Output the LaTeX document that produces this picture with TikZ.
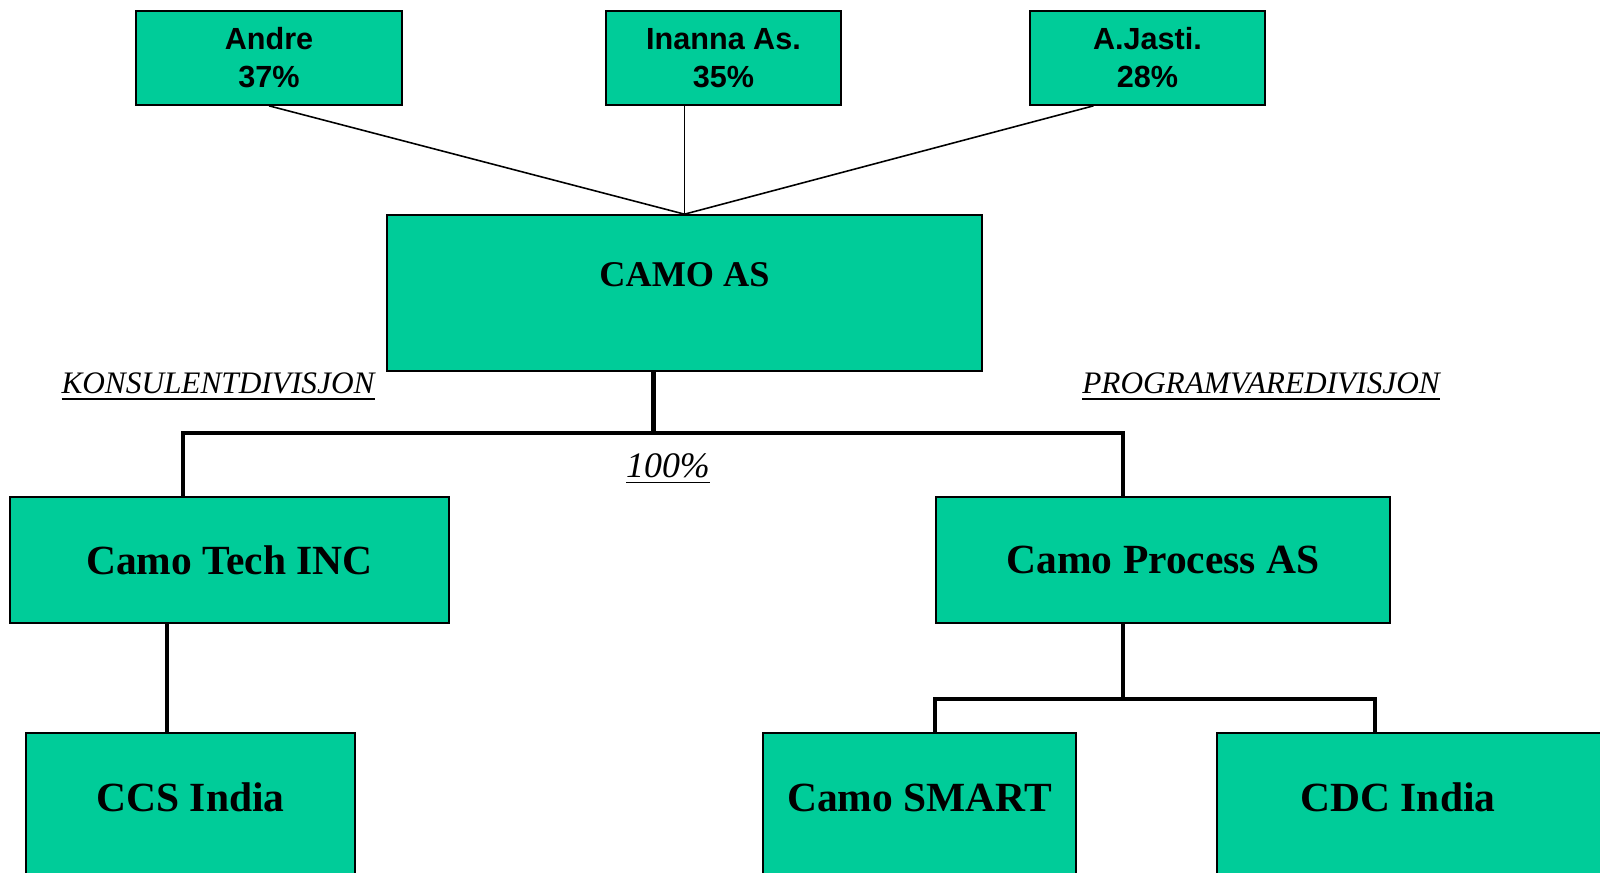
\documentclass[tikz,border=0pt]{standalone}
\usepackage{fontspec}
\setmainfont{Liberation Serif}
\newfontfamily\ownerfont{Liberation Sans}
\usetikzlibrary{calc}
\definecolor{boxgreen}{HTML}{00CC99}

\tikzset{
  owner/.style={draw, fill=boxgreen, line width=0.45pt, inner sep=0pt, align=center,
    minimum height=0.94cm, font=\ownerfont\bfseries\fontsize{8.7}{10.8}\selectfont},
  company/.style={draw, fill=boxgreen, line width=0.45pt, inner sep=0pt,
    minimum height=1.26cm, font=\bfseries\fontsize{11.8}{14}\selectfont},
  lowbox/.style={company, minimum height=2cm, text height=0.35cm, text depth=0.79cm},
  division/.style={font=\itshape\fontsize{8.9}{10}\selectfont},
  share/.style={line width=0.45pt},
  link/.style={line width=1.15pt},
}

\begin{document}
\begin{tikzpicture}[x=0.01cm, y=-0.01cm]
    \useasboundingbox (0,0) rectangle (1600,872);
    \clip (0,0) rectangle (1600,872);

    % owners
    \node[owner, minimum width=2.66cm] (andre) at (269,58) {Andre\\37\%};
    \node[owner, minimum width=2.35cm] (inanna) at (723.5,58) {Inanna As.\\35\%};
    \node[owner, minimum width=2.35cm] (jasti) at (1147.5,58) {A.Jasti.\\28\%};

    % mother company
    \node[company, minimum width=5.95cm, minimum height=1.56cm,
      font=\bfseries\fontsize{10.3}{12}\selectfont,
      text height=0.3cm, text depth=0.43cm] (camo) at (684.5,293) {CAMO AS};

    \draw[share] (andre.south) -- (camo.north);
    \draw[share] (inanna.south -| camo.north) -- (camo.north);
    \draw[share] ($(jasti.south)+(-54,0)$) -- (camo.north);

    % divisions
    \node[company, minimum width=4.39cm] (ctech) at (229.5,560) {Camo Tech INC};
    \node[company, minimum width=4.54cm] (cproc) at (1163,560) {Camo Process AS};

    \node[division] (kons) at (218,387) {\underline{KONSULENTDIVISJON}};
    \node[division] (prog) at (1261,387) {\underline{PROGRAMVAREDIVISJON}};
    \node[division, font=\itshape\fontsize{10.2}{12}\selectfont] (pct) at (668,469) {\underline{100\%}};

    \coordinate (tl) at ($(ctech.north)+(-46.5,0)$);
    \coordinate (tr) at ($(cproc.north)+(-40,0)$);
    \draw[link] (tl) -- ++(0,-63) -| (tr);
    \draw[link] ($(camo.south)+(-31,0)$) -- ++(0,63);

    % subsidiaries
    \node[lowbox, minimum width=3.29cm] (ccs) at (190.5,833) {CCS India};
    \node[lowbox, minimum width=3.13cm] (smart) at (919.5,833) {Camo SMART};
    \node[lowbox, minimum width=4.23cm] (cdc) at (1428.5,833) {CDC India\hspace*{0.61cm}};

    \coordinate (cl) at ($(ccs.north)+(-23.5,0)$);
    \draw[link] (cl) -- (cl |- ctech.south);

    \coordinate (sl) at ($(smart.north)+(15.5,0)$);
    \coordinate (sr) at ($(cdc.north)+(-53.5,0)$);
    \draw[link] (sl) -- ++(0,-33) -| (sr);
    \draw[link] ($(cproc.south)+(-40,0)$) -- ++(0,77);
\end{tikzpicture}
\end{document}
